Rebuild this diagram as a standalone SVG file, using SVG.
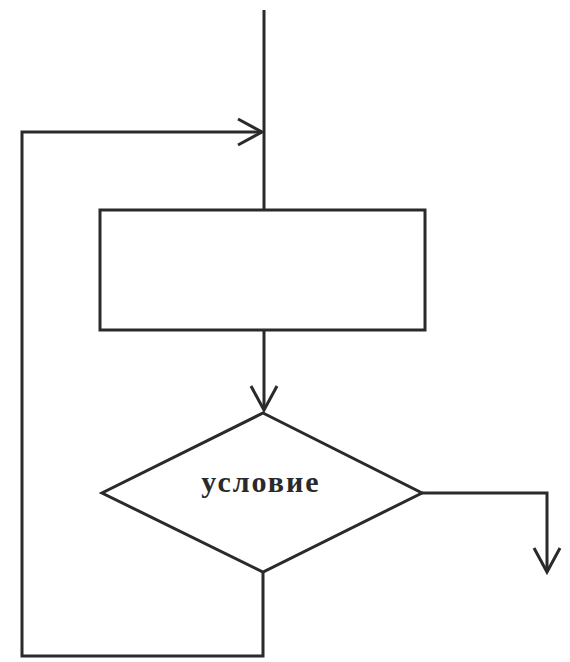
<svg xmlns="http://www.w3.org/2000/svg" width="570" height="662" viewBox="0 0 570 662">
<style>
.s{fill:none;stroke:#2a2a2a;stroke-width:3}
.n{fill:#fff;stroke:#2a2a2a;stroke-width:3}
.t{font-family:"Liberation Serif",serif;font-weight:bold;font-size:30px;letter-spacing:2px;fill:#2a2a2a;text-anchor:middle}
</style>
<defs>
<marker id="a" markerWidth="30" markerHeight="34" refX="26" refY="15" orient="auto" markerUnits="userSpaceOnUse">
<path d="M2,2 L26,15 L2,28" fill="none" stroke="#2a2a2a" stroke-width="3"/>
</marker>
</defs>
<rect width="570" height="662" fill="#fff"/>
<g id="connectors">
<path class="s" d="M264,10 V210"/>
<path class="s" d="M264,330 V410" marker-end="url(#a)"/>
<path class="s" d="M422,493 H547 V572" marker-end="url(#a)"/>
<path class="s" d="M263,572 V656 H22 V132 H262" marker-end="url(#a)"/>
</g>
<g id="process">
<rect class="n" x="100" y="210" width="325" height="120"/>
</g>
<g id="condition">
<polygon class="n" points="263,413 422,493 263,572 102,493"/>
<text class="t" x="261" y="492">условие</text>
</g>
</svg>
